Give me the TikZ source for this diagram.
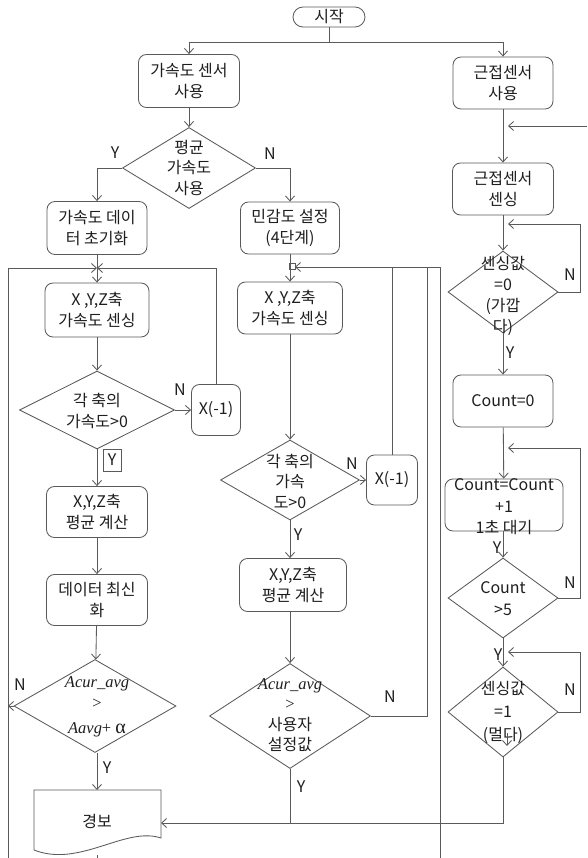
\documentclass[tikz,border=0pt]{standalone}
\usepackage{fontspec}
\setmainfont{Noto Sans CJK KR}
\newfontfamily\lserif{Liberation Serif}
\usetikzlibrary{shapes.geometric,arrows.meta}
\definecolor{lc}{RGB}{90,90,90}
\definecolor{tc}{RGB}{30,30,30}
\newcommand\myfs{\fontsize{16}{20.5}\selectfont}
\newcommand\labfs{\fontsize{16}{18}\selectfont}
\newcommand\serfs{\lserif\fontsize{16.5}{20.5}\selectfont}
\begin{document}
\begin{tikzpicture}[x=1pt,y=-1pt,
  line/.style={draw=lc, line width=0.85pt},
  arr/.style={line, -{Straight Barb[length=5pt,width=9pt]}},
  box/.style={draw=lc, line width=0.85pt, rounded corners=8pt, align=center, inner sep=1pt, font=\myfs, text=tc},
  dia/.style={draw=lc, line width=0.85pt, diamond, inner sep=0pt},
  txt/.style={align=center, inner sep=0pt, font=\myfs, text=tc},
  lab/.style={inner sep=0pt, font=\labfs, text=tc},
]
\fill[white] (0,0) rectangle (587,858);
\useasboundingbox (0,0) rectangle (587,858);

% start
\node[draw=lc, line width=0.85pt, rounded corners=10pt, minimum width=72, minimum height=20, inner sep=0pt, font=\myfs, text=tc] (start) at (329,17) {시작};

% column A
\node[box, minimum width=101, minimum height=53] (a1) at (189,81) {가속도 센서\\사용};
\node[dia, minimum width=133, minimum height=81] (d1) at (189,168) {};
\node[txt] (d1t) at (189,168) {평균\\가속도\\사용};
\node[box, minimum width=100, minimum height=53] (a2) at (97,228) {가속도 데이\\터 초기화};
\node[box, minimum width=104, minimum height=54] (a3) at (97,310) {X ,Y,Z축\\가속도 센싱};
\node[dia, minimum width=155, minimum height=78] (d2) at (97,410) {};
\node[txt] (d2t) at (97,411) {각 축의\\가속도>0};
\node[box, minimum width=49, minimum height=51] (x1a) at (216,410) {X(-1)};
\node[box, minimum width=101, minimum height=51] (a4) at (97,512) {X,Y,Z축\\평균 계산};
\node[box, minimum width=101, minimum height=51] (a5) at (97,600) {데이터 최신\\화};
\node[dia, minimum width=162, minimum height=93] (d3) at (95,706) {};
\node[txt, font=\serfs] (d3t) at (97,707) {\itshape Acur\_avg\\>\\[5pt]{\itshape Aavg}+ {\fontsize{20}{20}\selectfont α}};

% alarm (document shape)
\draw[line] (34,850) -- (34,790) -- (161,790) -- (161,838) .. controls (125,826) and (80,868) .. (34,850);
\node[txt] (alarm) at (97,821) {경보};
\coordinate (alN) at (97,790);
\coordinate (alE) at (161,823);
\coordinate (alS) at (97,855);
\coordinate (alB) at (97,858);

% column B
\node[box, minimum width=99, minimum height=52] (b1) at (290,228) {민감도 설정\\(4단계)};
\node[box, minimum width=105, minimum height=52] (b2) at (290,308) {X ,Y,Z축\\가속도 센싱};
\node[dia, minimum width=139, minimum height=80] (d5) at (290,480) {};
\node[txt] (d5t) at (290,481) {각 축의\\가속\\도>0};
\node[box, minimum width=51, minimum height=50] (x1b) at (392,480) {X(-1)};
\node[box, minimum width=107, minimum height=53] (b3) at (293,585) {X,Y,Z축\\평균 계산};
\node[dia, minimum width=161, minimum height=105] (d4) at (290,716) {};
\node[txt] (d4t) at (290,715) {{\serfs\itshape Acur\_avg}\\{\serfs >}\\사용자\\설정값};
\node[draw=lc, line width=0.6pt, minimum size=6pt, inner sep=0pt] (sq) at (292,266) {};

% column C
\node[box, minimum width=100, minimum height=52] (c1) at (503,83) {근접센서\\사용};
\node[box, minimum width=101, minimum height=52] (c2) at (503,189) {근접센서\\센싱};
\node[dia, minimum width=110, minimum height=82] (dc1) at (503,292) {};
\node[txt, font=\fontsize{16}{21.3}\selectfont] (dc1t) at (503,296) {센싱값\\=0\\(가깝\\다)};
\node[box, minimum width=100, minimum height=52] (c3) at (503,401) {Count=0};
\node[box, minimum width=118, minimum height=52] (c4) at (504,505) {};
\node[txt, font=\fontsize{16}{21.5}\selectfont] (c4t) at (504,507) {Count=Count\\+1\\1초 대기};
\node[dia, minimum width=110, minimum height=80] (dc2) at (503,598) {};
\node[txt, font=\fontsize{16}{22}\selectfont] (dc2t) at (503,599) {Count\\>5};
\node[dia, minimum width=110, minimum height=90] (d6) at (503,712) {};
\node[txt, font=\fontsize{16}{23}\selectfont] (d6t) at (503,712) {센싱값\\=1\\(멀다)};

% helper coordinates
\coordinate (t) at (329,42);
\coordinate (j1) at (97,268);
\coordinate (l1) at (8,268);
\coordinate (lB) at (8,858);
\coordinate (l3) at (8,706);
\coordinate (j2) at (295,267);
\coordinate (k1) at (427,267);
\coordinate (k2) at (440,267);
\coordinate (kB) at (440,858);
\coordinate (m1) at (290,823);
\coordinate (m2) at (503,823);
\coordinate (redge) at (587,126);
\coordinate (r1) at (580,224);
\coordinate (r2) at (580,448);
\coordinate (r3) at (580,652);
\coordinate (sa) at (507,733);
\coordinate (sb) at (507,746);

% connectors
\draw[line] (start.south) -- (t);
\draw[arr] (t) -| (a1.north);
\draw[arr] (t) -| (c1.north);
\draw[arr] (a1) -- (d1);
\draw[arr] (d1.west) -| (a2.north);
\draw[arr] (d1.east) -| (b1.north);
\draw[arr] (a2) -- (a3);
\draw[arr] (lB) -- (l1) -- (j1);
\draw[arr] (x1a.north) |- (j1);
\draw[arr] (a3) -- (d2);
\draw[arr] (d2.east) -- (x1a.west);
\draw[arr] (d2.south) -- (a4.north);
\draw[arr] (a4) -- (a5);
\draw[arr] (a5) -- (d3);
\draw[arr] (d3.west) -- (l3);
\draw[arr] (d3.south -| alN) -- (alN);
\draw[line] (alS) -- (alB);

\draw[arr] (b1) -- (b2);
\draw[arr] (x1b.north) |- (j2);
\draw[line] (kB) -- (k2) -- (x1b.north |- k2);
\draw[line] (d4.east) -| (k1);
\draw[arr] (b2) -- (d5);
\draw[arr] (d5.east) -- (x1b.west);
\draw[arr] (d5.south) -- (d5.south |- b3.north);
\draw[arr] (b3.south -| d4.north) -- (d4.north);
\draw[line] (d4.south) -- (m1);
\draw[arr] (d6.south) -- (m2) -- (alE);

\draw[arr] (c1) -- (c2);
\draw[arr, shorten >=5pt] (redge) -- (c1.south |- redge);
\draw[arr] (c2) -- (dc1);
\draw[arr, shorten >=5pt] (dc1.east) -| (r1) -- (c2.south |- r1);
\draw[arr] (dc1) -- (c3);
\draw[arr] (c3) -- (c4);
\draw[arr, shorten >=5pt] (dc2.east) -| (r2) -- (c3.south |- r2);
\draw[arr] (c4.south -| dc2.north) -- (dc2.north);
\draw[arr] (dc2) -- (d6);
\draw[arr, shorten >=5pt] (d6.east) -| (r3) -- (dc2.south |- r3);
\draw[arr] (sa) -- (sb);

% labels
\node[lab] (ly1) at (115,153) {Y};
\node[lab] (ln1) at (270,154) {N};
\node[lab] (ln2) at (180,390) {N};
\node[lab, draw=lc, line width=0.6pt, minimum width=18, minimum height=22] (ly2) at (112,460) {Y};
\node[lab] (ln3) at (20,685) {N};
\node[lab] (ly3) at (107,768) {Y};
\node[lab] (ln5) at (352,464) {N};
\node[lab] (ly5) at (298,535) {Y};
\node[lab] (ln4) at (390,697) {N};
\node[lab] (ly4) at (301,787) {Y};
\node[lab] (lnc1) at (570,275) {N};
\node[lab] (lyc1) at (510,353) {Y};
\node[lab] (lyc4) at (497,548) {Y};
\node[lab] (lnc2) at (570,583) {N};
\node[lab] (lyc2) at (498,655) {Y};
\node[lab] (ln6) at (570,690) {N};
\end{tikzpicture}
\end{document}
